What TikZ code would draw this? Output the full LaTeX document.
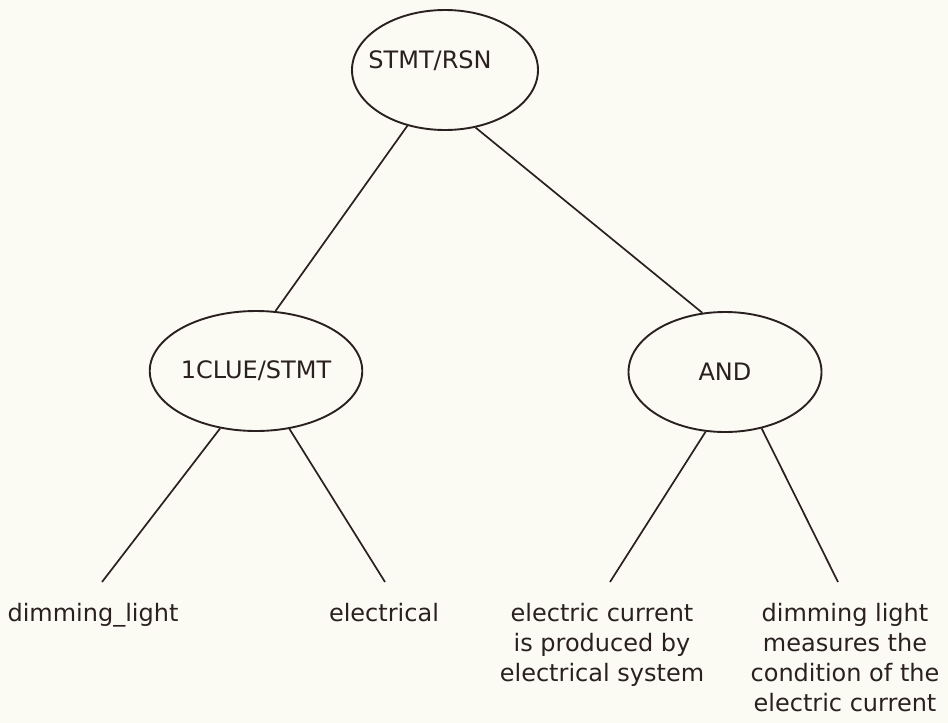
\documentclass[tikz,border=0pt]{standalone}
\usepackage{fontspec}
\setmainfont{DejaVu Sans}
\usetikzlibrary{shapes.geometric}
\definecolor{ink}{HTML}{2A2020}
\definecolor{paper}{HTML}{FBFBF3}
\begin{document}
\begin{tikzpicture}[x=1pt,y=-1pt,
  oval/.style={ellipse,draw=ink,line width=1.9pt,inner sep=0pt,
    minimum width=190pt,minimum height=120pt,
    font=\fontsize{24}{28}\selectfont,text=ink},
  leaf/.style={font=\fontsize{24}{30}\selectfont,text=ink,align=center,
    inner sep=0pt,anchor=north},
  edge/.style={draw=ink,line width=1.7pt}]
\fill[paper] (0,0) rectangle (948,723);
\useasboundingbox (0,0) rectangle (948,723);
% the three inner nodes
\node[oval,minimum width=186pt,
  label={[text=ink,font=\fontsize{24}{28}\selectfont,xshift=-15pt,yshift=9pt]center:STMT/RSN}]
  (root) at (445,70) {};
\node[oval,minimum width=195pt] (clue) at (256,371) {1CLUE/STMT};
\node[oval,minimum width=193pt] (and) at (725,372) {AND};
% the leaves
\node[leaf] (l1) at (93,603) {dimming\_light};
\node[leaf] (l2) at (384,603) {electrical};
\node[leaf] (l3) at (602,603) {electric current\\is produced by\\electrical system};
\node[leaf] (l4) at (845,603) {dimming light\\measures the\\condition of the\\electric current};
\coordinate (e1) at (102,582);
\coordinate (e2) at (385,582);
\coordinate (e3) at (610,582);
\coordinate (e4) at (838,582);
% branches
\draw[edge] (root.-124) -- (clue.72);
\draw[edge] (root.-62) -- (and.111);
\draw[edge] (clue.-122) -- (e1);
\draw[edge] (clue.-60) -- (e2);
\draw[edge] (and.-108) -- (e3);
\draw[edge] (and.-57) -- (e4);
\end{tikzpicture}
\end{document}
